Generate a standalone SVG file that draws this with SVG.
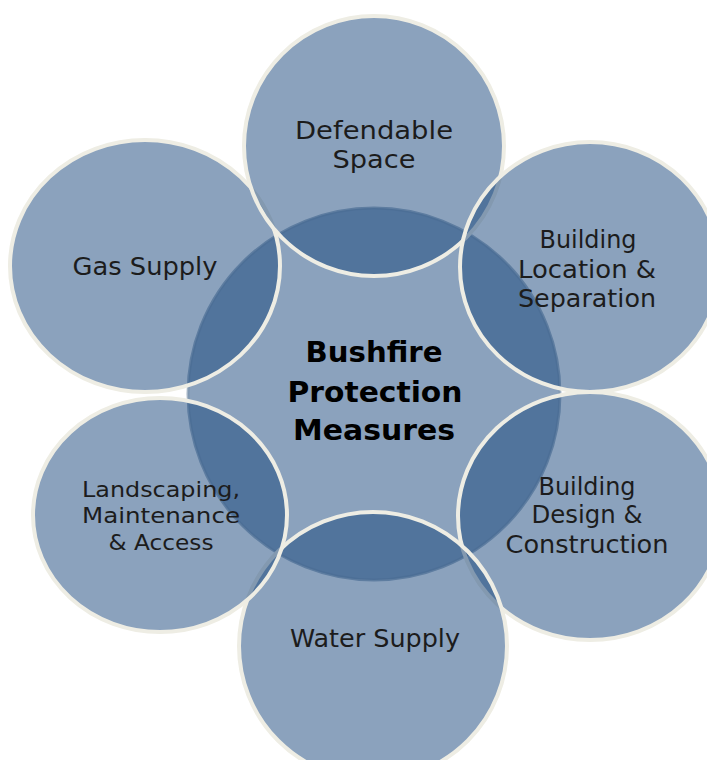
<svg xmlns="http://www.w3.org/2000/svg" width="707" height="760" viewBox="0 0 707 760">
  <style>
    .disc { fill: #17457B; fill-opacity: 0.5; stroke: #EEEDE4; stroke-width: 4; }
    .core { fill: #17457B; fill-opacity: 0.5; stroke: #7E94AD; stroke-width: 3; stroke-opacity: 0.7; }
    .lbl { font-family: "DejaVu Sans", "Liberation Sans", sans-serif; font-size: 24px; fill: #1c1c1c; text-anchor: middle; }
    .sm { font-size: 22px; }
    .title { font-family: "DejaVu Sans", "Liberation Sans", sans-serif; font-size: 28px; font-weight: bold; fill: #000; text-anchor: middle; }
  </style>
  <rect width="707" height="760" fill="#ffffff"/>
  <g id="center-node">
    <circle class="core" cx="374" cy="394" r="186"/>
  </g>
  <g id="node-gas-supply">
    <ellipse class="disc" cx="145" cy="266" rx="135" ry="126"/>
  </g>
  <g id="node-defendable-space">
    <circle class="disc" cx="374" cy="146" r="130"/>
  </g>
  <g id="node-building-location">
    <ellipse class="disc" cx="590" cy="267" rx="130" ry="125"/>
  </g>
  <g id="node-building-design">
    <ellipse class="disc" cx="590" cy="516" rx="132" ry="124"/>
  </g>
  <g id="node-water-supply">
    <circle class="disc" cx="373" cy="646" r="134"/>
  </g>
  <g id="node-landscaping">
    <ellipse class="disc" cx="160" cy="515" rx="127" ry="117"/>
  </g>
  <g id="connectors"/>
  <g id="labels">
    <text class="title" x="374" y="362" textLength="137" lengthAdjust="spacingAndGlyphs">Bushfire</text>
    <text class="title" x="375" y="402" textLength="175" lengthAdjust="spacingAndGlyphs">Protection</text>
    <text class="title" x="374" y="440" textLength="162" lengthAdjust="spacingAndGlyphs">Measures</text>
    <text class="lbl" x="374" y="139" textLength="158" lengthAdjust="spacingAndGlyphs">Defendable</text>
    <text class="lbl" x="374" y="168" textLength="83" lengthAdjust="spacingAndGlyphs">Space</text>
    <text class="lbl" x="145" y="275" textLength="145" lengthAdjust="spacingAndGlyphs">Gas Supply</text>
    <text class="lbl" x="588" y="248" textLength="97" lengthAdjust="spacingAndGlyphs">Building</text>
    <text class="lbl" x="587" y="278" textLength="138" lengthAdjust="spacingAndGlyphs">Location &amp;</text>
    <text class="lbl" x="587" y="307" textLength="138" lengthAdjust="spacingAndGlyphs">Separation</text>
    <text class="lbl" x="587" y="495" textLength="97" lengthAdjust="spacingAndGlyphs">Building</text>
    <text class="lbl" x="587" y="523" textLength="111" lengthAdjust="spacingAndGlyphs">Design &amp;</text>
    <text class="lbl" x="587" y="553" textLength="163" lengthAdjust="spacingAndGlyphs">Construction</text>
    <text class="lbl" x="375" y="647" textLength="170" lengthAdjust="spacingAndGlyphs">Water Supply</text>
    <text class="lbl sm" x="161" y="497" textLength="158" lengthAdjust="spacingAndGlyphs">Landscaping,</text>
    <text class="lbl sm" x="161" y="523" textLength="158" lengthAdjust="spacingAndGlyphs">Maintenance</text>
    <text class="lbl sm" x="161" y="550" textLength="105" lengthAdjust="spacingAndGlyphs">&amp; Access</text>
  </g>
</svg>
